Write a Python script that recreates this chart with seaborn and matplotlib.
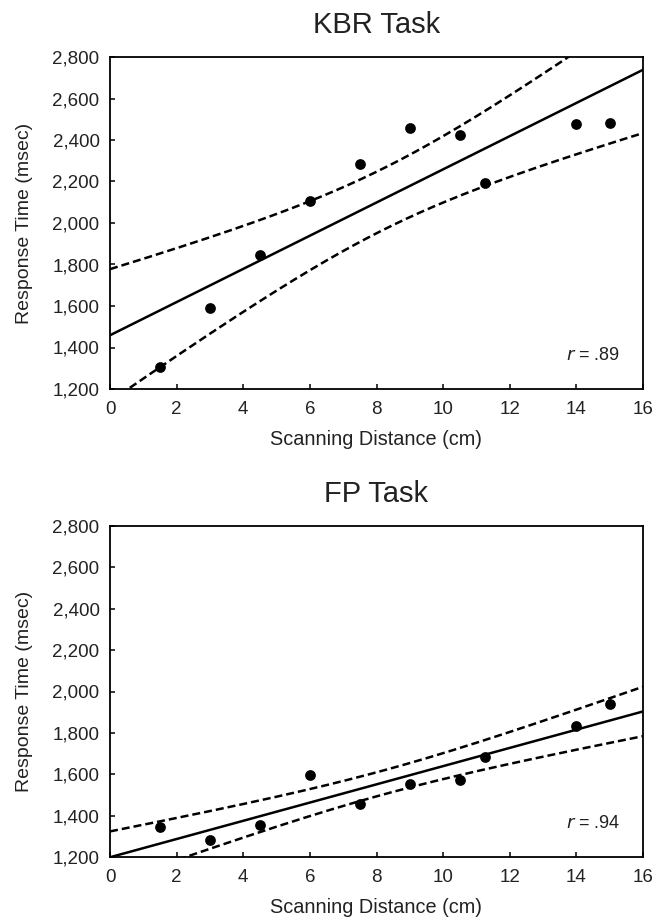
import numpy as np
import pandas as pd
import matplotlib
matplotlib.use("Agg")
import matplotlib.pyplot as plt
import matplotlib.ticker as mticker
import seaborn as sns

# data
distance = [1.5, 3, 4.5, 6, 7.5, 9, 10.5, 11.25, 14, 15]
kbr_rt = [1304, 1590, 1848, 2105, 2286, 2458, 2423, 2193, 2476, 2484]
fp_rt = [1344, 1280, 1356, 1597, 1457, 1554, 1570, 1682, 1831, 1940]
titles = ["KBR Task", "FP Task"]
r_labels = [".89", ".94"]

sns.set_style("ticks")
plt.rcParams["font.family"] = ["Liberation Sans", "DejaVu Sans"]
plt.rcParams["xtick.direction"] = "in"
plt.rcParams["ytick.direction"] = "in"


def fit_with_band(x, y, grid, t=2.306):
    # least squares line and 95% confidence band of the mean
    x = np.asarray(x, float)
    y = np.asarray(y, float)
    n = len(x)
    slope, icpt = np.polyfit(x, y, 1)
    resid = y - (icpt + slope * x)
    s = np.sqrt(np.sum(resid ** 2) / (n - 2))
    sxx = np.sum((x - x.mean()) ** 2)
    pred = icpt + slope * grid
    se = s * np.sqrt(1 / n + (grid - x.mean()) ** 2 / sxx)
    return pred, pred - t * se, pred + t * se


fig = plt.figure(figsize=(6.55, 9.17), dpi=100)
ax1 = fig.add_axes([110 / 655, 1 - 389 / 917, 533 / 655, 332 / 917])
ax2 = fig.add_axes([110 / 655, 1 - 857 / 917, 533 / 655, 331 / 917])

grid = np.linspace(0, 16, 200)

for ax, rt, title, r in zip([ax1, ax2], [kbr_rt, fp_rt], titles, r_labels):
    df = pd.DataFrame({"dist": distance, "rt": rt})
    pred, lo, hi = fit_with_band(df["dist"], df["rt"], grid)

    sns.lineplot(x=grid, y=pred, ax=ax, color="black", linewidth=1.8)
    sns.lineplot(x=grid, y=lo, ax=ax, color="black", linewidth=1.8,
                 linestyle=(0, (3.2, 1.6)))
    sns.lineplot(x=grid, y=hi, ax=ax, color="black", linewidth=1.8,
                 linestyle=(0, (3.2, 1.6)))
    sns.scatterplot(x="dist", y="rt", data=df, ax=ax, color="black",
                    s=60, linewidth=0, zorder=3)

    ax.set_xlim(0, 16)
    ax.set_ylim(1200, 2800)
    ax.set_xticks(range(0, 17, 2))
    ax.set_yticks(range(1200, 2801, 200))
    ax.yaxis.set_major_formatter(mticker.FuncFormatter(lambda v, _: f"{v:,.0f}"))
    ax.tick_params(labelsize=13.5, length=3.5, width=1.1, colors="black",
                   labelcolor="#222222")
    ax.tick_params(axis="x", pad=9)
    ax.tick_params(axis="y", pad=7.5)
    for sp in ax.spines.values():
        sp.set_visible(True)
        sp.set_linewidth(1.3)
        sp.set_color("black")

    ax.set_title(title, fontsize=21, pad=17, color="#222222")
    ax.set_xlabel("Scanning Distance (cm)", fontsize=14.3, labelpad=8, color="#222222")
    ax.set_ylabel("Response Time (msec)", fontsize=14, labelpad=14, color="#222222")

    ax.text(0.855, 0.10, f"$r$ = {r}", transform=ax.transAxes, fontsize=13,
            va="center", ha="left", color="#222222")

fig.savefig("out.png", dpi=100)
